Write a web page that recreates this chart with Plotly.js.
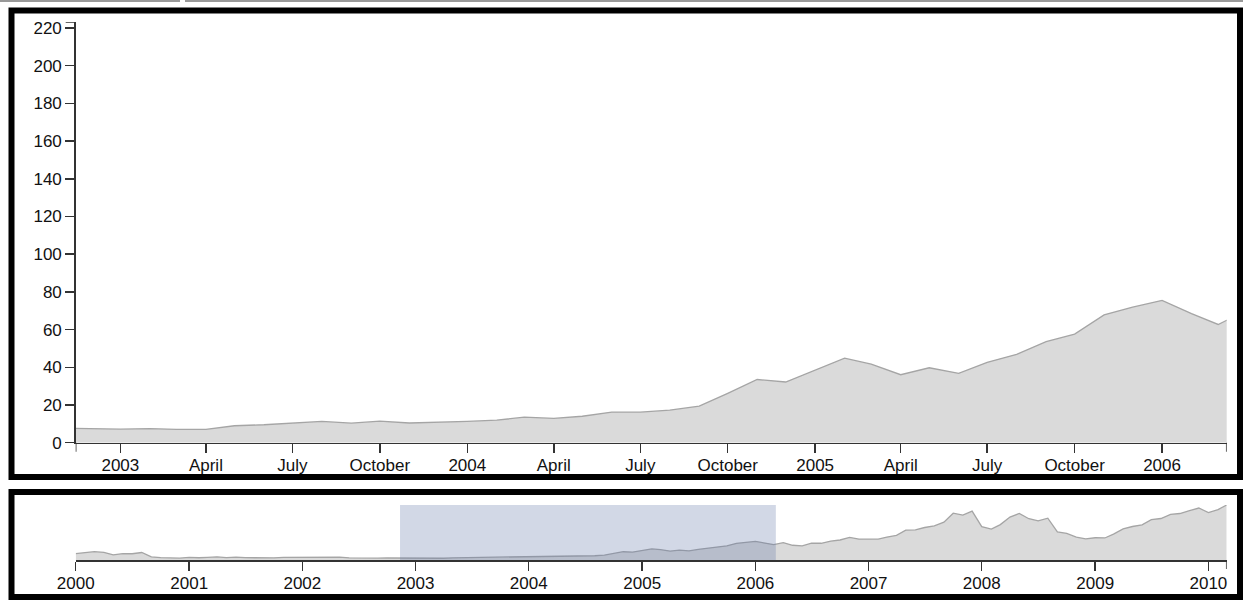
<!DOCTYPE html>
<html>
<head>
<meta charset="utf-8">
<script src="https://cdn.plot.ly/plotly-3.0.1.min.js"></script>
<style>
  html, body { margin: 0; padding: 0; background: #fff; }
  #chart { width: 1243px; height: 602px; }
</style>
</head>
<body>
<div id="chart"></div>
<script>
// Monthly closing price (AAPL-like series), Jan 2000 – Mar 2010
const months = [
  '2000-01-01','2000-02-01','2000-03-01','2000-04-01','2000-05-01','2000-06-01','2000-07-01','2000-08-01','2000-09-01','2000-10-01','2000-11-01','2000-12-01',
  '2001-01-01','2001-02-01','2001-03-01','2001-04-01','2001-05-01','2001-06-01','2001-07-01','2001-08-01','2001-09-01','2001-10-01','2001-11-01','2001-12-01',
  '2002-01-01','2002-02-01','2002-03-01','2002-04-01','2002-05-01','2002-06-01','2002-07-01','2002-08-01','2002-09-01','2002-10-01','2002-11-01','2002-12-01',
  '2003-01-01','2003-02-01','2003-03-01','2003-04-01','2003-05-01','2003-06-01','2003-07-01','2003-08-01','2003-09-01','2003-10-01','2003-11-01','2003-12-01',
  '2004-01-01','2004-02-01','2004-03-01','2004-04-01','2004-05-01','2004-06-01','2004-07-01','2004-08-01','2004-09-01','2004-10-01','2004-11-01','2004-12-01',
  '2005-01-01','2005-02-01','2005-03-01','2005-04-01','2005-05-01','2005-06-01','2005-07-01','2005-08-01','2005-09-01','2005-10-01','2005-11-01','2005-12-01',
  '2006-01-01','2006-02-01','2006-03-01','2006-04-01','2006-05-01','2006-06-01','2006-07-01','2006-08-01','2006-09-01','2006-10-01','2006-11-01','2006-12-01',
  '2007-01-01','2007-02-01','2007-03-01','2007-04-01','2007-05-01','2007-06-01','2007-07-01','2007-08-01','2007-09-01','2007-10-01','2007-11-01','2007-12-01',
  '2008-01-01','2008-02-01','2008-03-01','2008-04-01','2008-05-01','2008-06-01','2008-07-01','2008-08-01','2008-09-01','2008-10-01','2008-11-01','2008-12-01',
  '2009-01-01','2009-02-01','2009-03-01','2009-04-01','2009-05-01','2009-06-01','2009-07-01','2009-08-01','2009-09-01','2009-10-01','2009-11-01','2009-12-01',
  '2010-01-01','2010-02-01','2010-03-01'
];
const prices = [
  25.94,28.66,33.95,31.01,21.00,26.19,25.41,30.47,12.88,9.78,8.25,7.44,
  10.81,9.12,11.03,12.74,9.98,11.62,9.40,9.27,7.76,8.78,10.65,10.95,
  12.36,10.85,11.84,12.14,11.65,8.86,7.63,7.38,7.25,8.03,7.75,7.16,
  7.18,7.51,7.07,7.11,8.98,9.53,10.54,11.31,10.36,11.44,10.45,10.69,
  11.28,11.96,13.52,12.89,14.03,16.27,16.17,17.25,19.38,26.20,33.53,32.20,
  38.45,44.86,41.67,36.06,39.76,36.81,42.65,46.89,53.61,57.59,67.82,71.89,
  75.51,68.49,62.72,70.39,59.77,57.27,67.96,67.85,76.98,81.08,91.66,84.84,
  85.73,84.61,92.91,99.80,121.19,122.04,131.76,138.48,153.47,189.95,182.22,198.08,
  135.36,125.02,143.50,173.95,188.75,167.44,158.95,169.53,113.66,107.59,92.67,85.35,
  90.13,89.31,105.12,125.83,135.81,142.43,163.39,168.21,185.35,188.50,199.91,210.73,
  192.06,204.62,223.02
];

// Brush / focus window
const focusStart = '2002-11-15';
const focusEnd = '2006-03-10';

const focusTickVals = ['2003-01-01','2003-04-01','2003-07-01','2003-10-01','2004-01-01','2004-04-01','2004-07-01','2004-10-01','2005-01-01','2005-04-01','2005-07-01','2005-10-01','2006-01-01'];
const focusTickText = ['2003','April','July','October','2004','April','July','October','2005','April','July','October','2006'];
const yTickVals = [0,20,40,60,80,100,120,140,160,180,200,220];
const contextTickVals = ['2000-01-01','2001-01-01','2002-01-01','2003-01-01','2004-01-01','2005-01-01','2006-01-01','2007-01-01','2008-01-01','2009-01-01','2010-01-01'];
const contextTickText = ['2000','2001','2002','2003','2004','2005','2006','2007','2008','2009','2010'];

const W = 1243, H = 602;
const px = v => v / W;
const py = v => (H - v) / H;

const yMax = Math.max(...prices);
const fillCol = 'rgb(218,218,218)';
const lineCol = 'rgb(165,165,165)';
const axisCol = '#333';
const font = {family: '"Liberation Sans", Arial, Helvetica, sans-serif', size: 17, color: '#111'};

const traces = [
  {x: months, y: prices, type: 'scatter', mode: 'lines', fill: 'tozeroy',
   fillcolor: fillCol, line: {color: lineCol, width: 1.3}, xaxis: 'x', yaxis: 'y', hoverinfo: 'x+y'},
  {x: months, y: prices, type: 'scatter', mode: 'lines', fill: 'tozeroy',
   fillcolor: fillCol, line: {color: lineCol, width: 1.3}, xaxis: 'x2', yaxis: 'y2', hoverinfo: 'x+y'}
];

const xL = 75.7, xR = 1226.7;
const fTop = 22.3, fBot = 442.7;
const cTop = 505, cBot = 560;

const shapes = [
  // brush extent
  {type: 'rect', xref: 'x2', yref: 'paper', x0: '2002-11-12', x1: '2006-03-08',
   y0: py(cBot), y1: py(cTop), fillcolor: 'rgba(100,120,170,0.29)', line: {width: 0}, layer: 'above'},
  // outer ticks (domain ends)
  {type: 'line', xref: 'paper', yref: 'y', x0: px(xL - 10), x1: px(xL), y0: yMax, y1: yMax, line: {color: axisCol, width: 1.5}},
  {type: 'line', xref: 'x', yref: 'paper', x0: focusStart, x1: focusStart, y0: py(fBot), y1: py(fBot + 9), line: {color: axisCol, width: 1.5}},
  {type: 'line', xref: 'x', yref: 'paper', x0: focusEnd, x1: focusEnd, y0: py(fBot), y1: py(fBot + 9), line: {color: axisCol, width: 1.5}},
  {type: 'line', xref: 'x2', yref: 'paper', x0: '2010-03-01', x1: '2010-03-01', y0: py(cBot), y1: py(cBot + 9), line: {color: axisCol, width: 1.5}},
  // panel frames
  {type: 'rect', xref: 'paper', yref: 'paper', x0: px(11.5), x1: px(1240), y0: py(477), y1: py(10.5),
   line: {color: '#000', width: 6}, fillcolor: 'rgba(0,0,0,0)'},
  {type: 'rect', xref: 'paper', yref: 'paper', x0: px(11.5), x1: px(1240), y0: py(597), y1: py(492),
   line: {color: '#000', width: 6}, fillcolor: 'rgba(0,0,0,0)'},
  // faint page line at the very top
  {type: 'line', xref: 'paper', yref: 'paper', x0: 0, x1: px(180), y0: py(1), y1: py(1), line: {color: '#999', width: 2}},
  {type: 'line', xref: 'paper', yref: 'paper', x0: px(185), x1: 1, y0: py(1), y1: py(1), line: {color: '#999', width: 2}}
];

const axisCommon = {
  showgrid: false, zeroline: false, showline: true, linecolor: axisCol, linewidth: 1.5,
  ticks: 'outside', ticklen: 9, tickwidth: 1.5, tickcolor: axisCol, tickfont: font, fixedrange: true
};

const layout = {
  width: W, height: H,
  margin: {l: 0, r: 0, t: 0, b: 0, pad: 0},
  paper_bgcolor: '#fff', plot_bgcolor: '#fff',
  showlegend: false,
  font: font,
  xaxis: Object.assign({}, axisCommon, {
    type: 'date', domain: [px(xL), px(xR)], range: [focusStart, focusEnd],
    tickmode: 'array', tickvals: focusTickVals, ticktext: focusTickText, anchor: 'y',
    ticklabelstandoff: -3
  }),
  yaxis: Object.assign({}, axisCommon, {
    domain: [py(fBot), py(fTop)], range: [0, yMax],
    tickmode: 'array', tickvals: yTickVals, anchor: 'x'
  }),
  xaxis2: Object.assign({}, axisCommon, {
    type: 'date', domain: [px(xL), px(xR)], range: ['2000-01-01', '2010-03-01'],
    tickmode: 'array', tickvals: contextTickVals, ticktext: contextTickText, anchor: 'y2',
    ticklabelstandoff: -2
  }),
  yaxis2: {
    domain: [py(cBot), py(cTop)], range: [0, yMax], showgrid: false, zeroline: false,
    showline: false, showticklabels: false, ticks: '', anchor: 'x2', fixedrange: true
  },
  shapes: shapes
};

Plotly.newPlot('chart', traces, layout, {displayModeBar: false, staticPlot: true});
</script>
</body>
</html>
